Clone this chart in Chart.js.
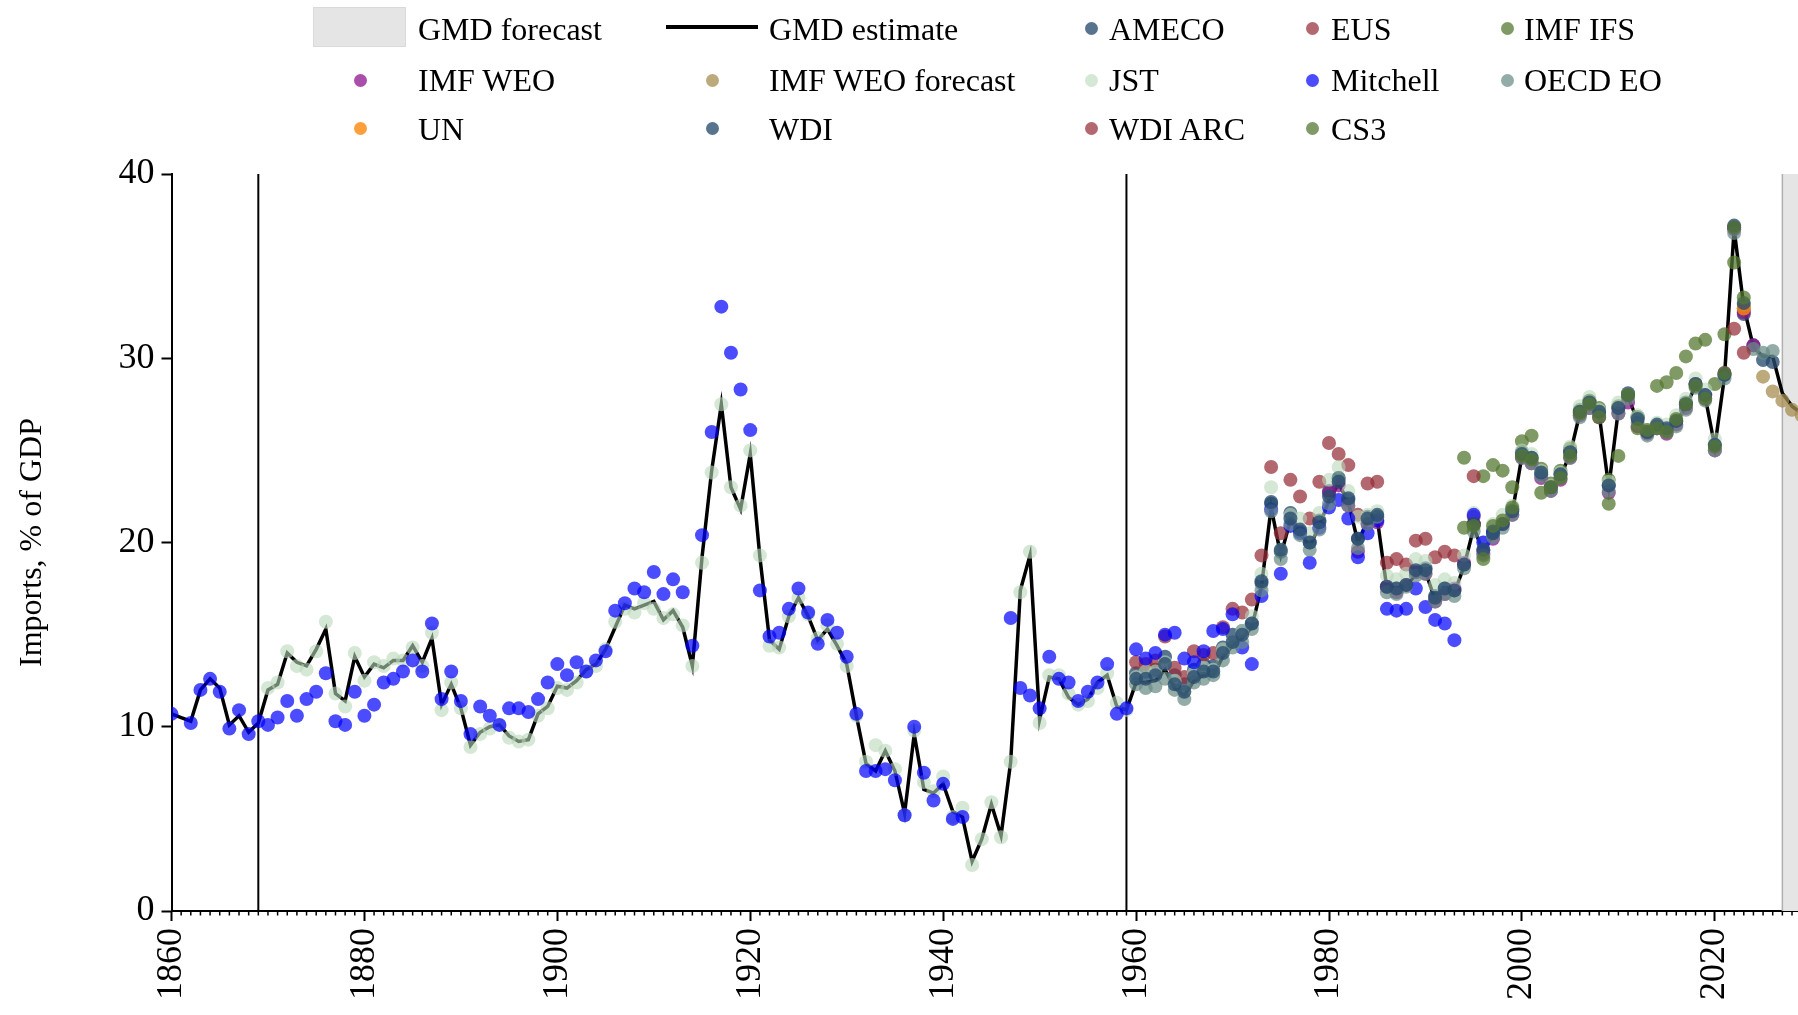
<!DOCTYPE html>
<html><head><meta charset="utf-8">
<script src="https://cdn.jsdelivr.net/npm/chart.js@4.4.1/dist/chart.umd.min.js"></script>
<style>
html,body{margin:0;padding:0;background:#fff;overflow:hidden;width:1798px;height:1015px;}
#wrap{position:absolute;left:0;top:0;width:1830px;height:1060px;}
#legend{position:absolute;left:0;top:0;width:1798px;height:160px;font-family:"Liberation Serif","Times New Roman",serif;font-size:32px;color:#000;}
.lt{position:absolute;line-height:32px;white-space:nowrap;}
.ld{position:absolute;border-radius:50%;}
</style></head><body>
<div id="wrap"><canvas id="c" width="1830" height="1060"></canvas></div>
<div id="legend"></div>
<script>
// ---------------- data ----------------
const X_TICKS = [1860, 1880, 1900, 1920, 1940, 1960, 1980, 2000, 2020];
const Y_TICKS = [0, 10, 20, 30, 40];
const BREAK_YEARS = [1869, 1959];
const FORECAST_START = 2027;

const GMD_START = 1860;
const gmdEstimate = [
 10.7,10.5,10.3,12.0,12.6,12.1,10.1,10.6,9.7,10.2,
 12.0,12.3,14.0,13.5,13.3,14.2,15.3,11.8,11.4,13.8,
 12.7,13.4,13.2,13.6,13.6,14.4,13.5,14.8,11.2,12.3,
 11.0,9.0,9.7,10.0,10.1,9.5,9.2,9.3,10.7,11.1,
 12.2,12.1,12.5,13.1,13.4,14.2,15.4,16.6,16.4,16.6,
 16.8,15.8,16.3,15.4,13.3,19.2,23.9,27.5,23.0,21.8,
 24.8,19.2,14.7,14.2,16.0,17.0,16.0,14.7,15.3,14.4,
 13.4,10.6,8.0,7.6,8.7,7.6,5.3,9.6,6.6,6.4,
 6.9,5.4,5.1,2.7,3.9,5.8,4.1,8.1,17.4,19.3,
 10.4,12.7,12.6,11.6,11.2,11.5,12.4,12.8,11.1,10.9,
 12.4,12.4,12.5,13.1,12.1,11.7,12.5,12.8,12.8,13.8,
 14.4,14.8,15.4,17.6,21.9,19.3,21.2,20.5,19.8,20.9,
 22.3,23.2,22.2,20.0,21.2,21.3,17.5,17.4,17.6,18.3,
 18.4,16.9,17.4,17.3,18.7,20.8,19.5,20.4,20.9,21.6,
 24.7,24.5,23.7,22.9,23.6,24.8,27.0,27.5,27.0,23.0,
 27.2,27.9,26.6,25.9,26.3,26.1,26.5,27.4,28.5,27.9,
 25.2,29.0,37.0,32.8,30.6,30.1,30.1,28.1,27.4,27.0
];

const AMECO_START = 1960;
const ameco = [
 12.9,13.0,13.1,13.8,12.8,12.3,13.1,13.4,13.3,14.3,
 15.0,15.2,15.6,17.8,22.1,19.5,21.6,20.6,20.0,21.2,
 22.8,23.5,22.3,20.2,21.4,21.4,17.6,17.5,17.7,18.4,
 18.6,17.1,17.5,17.4,18.8,21.0,19.6,20.5,21.0,21.8,
 24.9,24.6,23.7,23.0,23.7,24.9,27.1,27.7,27.1,23.1,
 27.3,28.1,26.8,26.0,26.3,26.1,26.6,27.6,28.6,28.0,
 25.3,29.1,37.1,32.4,30.7,29.9,29.8
];

const EUS_START = 1960;
const eus = [
 13.5,13.4,13.6,14.9,13.2,12.7,14.1,13.9,14.0,15.4,
 16.4,16.2,16.9,19.3,24.1,20.5,23.4,22.5,21.3,23.3,
 25.4,24.8,24.2,21.5,23.2,23.3,18.9,19.1,18.8,20.1,
 20.2,19.2,19.5,19.3,null,21.4
];

const IMF_IFS_START = 1994;
const imfIfs = [
 24.6,21.0,23.6,24.2,23.9,23.0,25.5,25.8,24.0,23.2,
 23.9,25.1,27.2,27.7,27.3,23.4,27.4,28.0,26.8,26.0,
 28.5,28.7,29.2,30.1,30.8,31.0,28.6,31.3,35.2,32.7
];

const IMF_WEO_START = 1980;
const imfWeo = [
 22.7,23.1,22.0,19.5,21.0,21.1,17.6,17.3,17.7,18.4,
 18.3,16.8,17.2,17.5,18.9,21.0,19.4,20.2,21.0,21.5,
 24.6,24.3,23.5,22.8,23.4,24.6,26.9,27.3,26.8,22.7,
 27.0,27.6,26.3,25.9,26.2,25.9,26.4,27.3,28.6,27.8,
 25.0,29.2,37.0,32.5,30.7
];

const IMF_WEO_FC_START = 2025;
const imfWeoForecast = [29.0,28.2,27.7,27.2,26.9];

const JST_START = 1870;
const jst = [
 12.1,12.4,14.1,13.3,13.1,14.1,15.7,11.8,11.1,14.0,
 12.5,13.5,13.3,13.7,13.6,14.3,13.3,15.1,10.9,12.4,
 11.0,8.9,9.6,9.9,10.1,9.4,9.2,9.3,10.6,11.0,
 12.1,12.0,12.4,13.0,13.3,14.2,15.7,16.4,16.2,16.7,
 16.4,15.9,16.1,15.5,13.3,18.9,23.8,27.5,23.0,22.0,
 25.0,19.3,14.4,14.3,16.0,17.0,16.1,14.8,15.5,14.5,
 13.3,10.6,8.1,9.0,8.7,7.7,5.2,9.8,7.0,6.5,
 7.3,5.1,5.6,2.5,3.9,5.9,4.0,8.1,17.3,19.5,
 10.2,12.8,12.8,11.8,11.2,11.4,12.1,12.9,11.3,10.9,
 12.7,13.0,13.0,13.5,12.5,11.9,12.9,13.2,13.1,14.2,
 14.6,15.2,16.0,18.3,23.0,19.6,21.5,21.3,20.5,21.6,
 23.4,24.1,22.8,21.4,21.5,21.7,18.2,18.0,18.3,19.1,
 19.0,17.7,18.0,17.8,19.3,21.6,20.0,21.0,21.5,22.0,
 25.0,24.8,23.9,23.1,23.8,25.2,27.4,27.9,27.2,23.3,
 27.6,28.0,26.9,26.1,26.5,26.4,26.9,27.8,28.9,28.3,
 25.6
];

const MITCHELL_START = 1860;
const mitchell = [
 10.7,null,10.2,12.0,12.6,11.9,9.9,10.9,9.6,10.3,
 10.1,10.5,11.4,10.6,11.5,11.9,12.9,10.3,10.1,11.9,
 10.6,11.2,12.4,12.6,13.0,13.6,13.0,15.6,11.5,13.0,
 11.4,9.6,11.1,10.6,10.1,11.0,11.0,10.8,11.5,12.4,
 13.4,12.8,13.5,13.0,13.6,14.1,16.3,16.7,17.5,17.3,
 18.4,17.2,18.0,17.3,14.4,20.4,26.0,32.8,30.3,28.3,
 26.1,17.4,14.9,15.1,16.4,17.5,16.2,14.5,15.8,15.1,
 13.8,10.7,7.6,7.6,7.7,7.1,5.2,10.0,7.5,6.0,
 6.9,5.0,5.1,null,null,null,null,15.9,12.1,11.7,
 11.0,13.8,12.6,12.4,11.4,11.9,12.4,13.4,10.7,11.0,
 14.2,13.7,14.0,15.0,15.1,13.7,13.5,14.1,15.2,15.3,
 16.1,14.3,13.4,17.1,21.8,18.3,20.9,20.5,18.9,20.8,
 21.9,22.3,21.3,19.2,20.5,21.2,16.4,16.3,16.4,17.5,
 16.5,15.8,15.6,14.7,null,21.5,20.0,20.6
];

const OECD_START = 1960;
const oecdEo = [
 12.3,12.1,12.2,12.6,12.0,11.5,12.4,12.6,12.8,13.6,
 14.3,14.6,15.3,17.4,21.7,19.1,21.0,20.4,19.6,20.7,
 22.1,23.5,22.0,19.7,21.0,21.4,17.3,17.2,17.6,18.2,
 18.3,16.8,17.2,17.1,18.6,20.6,19.3,20.3,20.8,21.5,
 24.6,24.3,23.6,22.8,23.5,24.6,26.8,27.3,26.9,22.8,
 27.0,27.8,26.5,25.8,26.2,26.0,26.3,27.2,28.4,27.7,
 25.0,28.9,36.8,32.9,30.5,30.3,30.4
];

const UN_START = 2023;
const un = [32.7];

const WDI_START = 1960;
const wdi = [
 12.6,12.6,12.8,13.4,12.3,11.9,12.7,13.0,13.0,14.0,
 14.6,15.0,15.6,17.9,22.2,19.6,21.3,20.7,20.0,21.1,
 22.5,23.3,22.4,20.2,21.3,21.5,17.6,17.5,17.7,18.5,
 18.5,17.0,17.5,17.4,18.8,21.0,19.6,20.5,21.0,21.7,
 24.8,24.6,23.8,23.0,23.7,24.9,27.1,27.6,27.1,23.1,
 27.3,28.0,26.7,26.0,26.4,26.2,26.6,27.5,28.6,28.0,
 25.3,29.1,37.2,33.0
];

const WDI_ARC_START = 1995;
const wdiArc = [
 23.6,null,null,null,null,null,null,null,null,null,
 null,null,null,null,null,null,null,null,null,null,
 null,null,null,null,null,null,null,31.6,30.3
];

const CS3_START = 1994;
const cs3 = [
 20.8,20.9,19.1,20.9,21.2,21.9,24.7,24.5,22.7,23.0,
 23.5,24.7,27.0,27.5,26.8,22.1,24.7,28.0,26.2,26.1,
 26.2,26.0,26.7,27.5,28.5,27.8,25.2,29.2,37.1,33.3
];

// ---------------- build ----------------
function pts(start, arr){
  const out = [];
  arr.forEach((v,i)=>{ if(v!==null && v!==undefined) out.push({x:start+i, y:v}); });
  return out;
}
const FONT = '"Liberation Serif","Times New Roman",serif';

const sources = [
  {label:'AMECO', start:AMECO_START, data:ameco, color:'rgba(40,75,110,0.78)'},
  {label:'EUS', start:EUS_START, data:eus, color:'rgba(150,45,55,0.72)'},
  {label:'IMF IFS', start:IMF_IFS_START, data:imfIfs, color:'rgba(85,120,50,0.75)'},
  {label:'IMF WEO', start:IMF_WEO_START, data:imfWeo, color:'rgba(140,20,140,0.75)'},
  {label:'IMF WEO forecast', start:IMF_WEO_FC_START, data:imfWeoForecast, color:'rgba(165,140,80,0.75)'},
  {label:'JST', start:JST_START, data:jst, color:'rgba(185,215,185,0.6)'},
  {label:'Mitchell', start:MITCHELL_START, data:mitchell, color:'rgba(0,0,255,0.7)'},
  {label:'OECD EO', start:OECD_START, data:oecdEo, color:'rgba(105,140,135,0.72)'},
  {label:'UN', start:UN_START, data:un, color:'rgba(255,135,10,0.8)'},
  {label:'WDI', start:WDI_START, data:wdi, color:'rgba(40,75,110,0.78)'},
  {label:'WDI ARC', start:WDI_ARC_START, data:wdiArc, color:'rgba(150,45,55,0.72)'},
  {label:'CS3', start:CS3_START, data:cs3, color:'rgba(85,120,50,0.75)'}
];

const datasets = [{
  label:'GMD estimate', type:'line', data:pts(GMD_START, gmdEstimate),
  borderColor:'#000', borderWidth:3.5, pointRadius:0, tension:0, fill:false, order:100
}];
sources.forEach((s,i)=>{
  datasets.push({label:s.label, type:'scatter', data:pts(s.start, s.data),
    backgroundColor:s.color, borderWidth:0, pointRadius:7, pointHoverRadius:7,
    order: 50 - i});
});

// plugin: forecast shade, break lines, minor ticks
const decor = {
  id:'decor',
  beforeDatasetsDraw(chart){
    const {ctx, chartArea:a, scales:{x}} = chart;
    ctx.save();
    const fx = x.getPixelForValue(FORECAST_START);
    ctx.fillStyle = '#e5e5e5';
    ctx.fillRect(fx, a.top, a.right - fx, a.bottom - a.top);
    ctx.strokeStyle = '#b0b0b0'; ctx.lineWidth = 1.5;
    ctx.beginPath(); ctx.moveTo(fx, a.top); ctx.lineTo(fx, a.bottom); ctx.stroke();
    ctx.strokeStyle = '#000'; ctx.lineWidth = 2;
    BREAK_YEARS.forEach(yr=>{
      const px = x.getPixelForValue(yr);
      ctx.beginPath(); ctx.moveTo(px, a.top); ctx.lineTo(px, a.bottom); ctx.stroke();
    });
    ctx.restore();
  },
  afterDraw(chart){
    const {ctx, chartArea:a, scales:{x}} = chart;
    ctx.save();
    ctx.strokeStyle = '#000'; ctx.lineWidth = 1.5;
    for(let yr = Math.ceil(x.min); yr <= x.max; yr++){
      if (X_TICKS.includes(yr)) continue;
      const px = x.getPixelForValue(yr);
      ctx.beginPath(); ctx.moveTo(px, a.bottom); ctx.lineTo(px, a.bottom + 4.5); ctx.stroke();
    }
    ctx.restore();
  }
};

const axisCommon = {
  grid:{drawOnChartArea:false, drawTicks:true, tickLength:10, tickWidth:2, tickColor:'#000'},
  border:{display:true, color:'#000', width:2}
};

new Chart(document.getElementById('c').getContext('2d'), {
  type:'scatter',
  data:{datasets},
  options:{
    responsive:false, animation:false, devicePixelRatio:1,
    layout:{padding:{left:0, top:174, right:18.7, bottom:0}},
    plugins:{legend:{display:false}, tooltip:{enabled:false}},
    scales:{
      x:{type:'linear', min:1860, max:2030, position:'bottom',
        afterBuildTicks(s){ s.ticks = X_TICKS.map(v=>({value:v})); },
        afterFit(s){ s.height = 149; },
        ticks:{maxRotation:90, minRotation:90, padding:7, autoSkip:false, color:'#000',
          font:{family:FONT, size:36}, callback:v=>String(v)},
        ...axisCommon},
      y:{type:'linear', min:0, max:40,
        afterBuildTicks(s){ s.ticks = Y_TICKS.map(v=>({value:v})); },
        afterFit(s){ s.width = 171.5; },
        ticks:{padding:7, color:'#000', font:{family:FONT, size:36}, callback:v=>String(v)},
        title:{display:true, text:'Imports, % of GDP', color:'#000',
          font:{family:FONT, size:32}, padding:{top:13, bottom:0}},
        ...axisCommon}
    }
  },
  plugins:[decor]
});

// ---------------- legend (HTML) ----------------
const LEG_COLS = [{mark:360, text:418},{mark:712, text:769},{mark:1091, text:1109},{mark:1312, text:1331},{mark:1507, text:1524}];
const LEG_ROWS = [28.3, 80, 128.3];
const legendItems = [{label:'GMD forecast', kind:'patch'}, {label:'GMD estimate', kind:'line'}]
  .concat(sources.map(s=>({label:s.label, kind:'dot', color:s.color})));
const leg = document.getElementById('legend');
legendItems.forEach((it,i)=>{
  const col = LEG_COLS[i%5], cy = LEG_ROWS[Math.floor(i/5)];
  const m = document.createElement('div');
  m.style.position = 'absolute';
  if (it.kind==='patch'){
    Object.assign(m.style,{left:'313px', top:(cy-21)+'px', width:'93px', height:'40px', background:'#e5e5e5', boxSizing:'border-box', border:'1px solid #dadada'});
  } else if (it.kind==='line'){
    Object.assign(m.style,{left:'666px', top:(cy-3)+'px', width:'92px', height:'3.5px', background:'#000'});
  } else {
    m.className='ld';
    Object.assign(m.style,{left:(col.mark-6.5)+'px', top:(cy-6.5)+'px', width:'13px', height:'13px', background:it.color});
  }
  leg.appendChild(m);
  const t = document.createElement('div');
  t.className='lt'; t.textContent = it.label;
  t.style.left = col.text+'px'; t.style.top = (cy-15.8)+'px';
  leg.appendChild(t);
});
</script></body></html>
